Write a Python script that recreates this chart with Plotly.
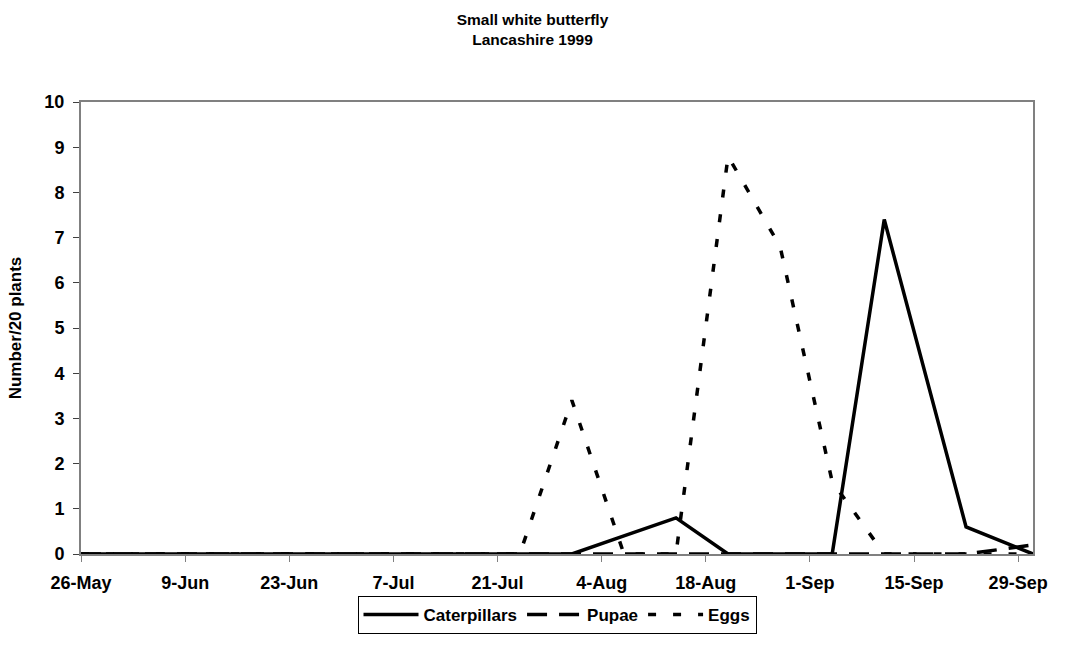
import plotly.graph_objects as go

# Sampling dates (1999) and counts per 20 plants
dates = [
    "1999-05-26", "1999-05-29", "1999-06-05", "1999-06-12", "1999-06-19",
    "1999-06-26", "1999-07-03", "1999-07-10", "1999-07-17", "1999-07-24",
    "1999-07-31", "1999-08-07", "1999-08-14", "1999-08-21", "1999-08-28",
    "1999-09-04", "1999-09-11", "1999-09-22", "1999-10-01",
]
caterpillars = [0, 0, 0, 0, 0, 0, 0, 0, 0, 0, 0, 0.4, 0.8, 0, 0, 0, 7.4, 0.6, 0]
pupae = [0, 0, 0, 0, 0, 0, 0, 0, 0, 0, 0, 0, 0, 0, 0, 0, 0, 0, 0.2]
eggs = [0, 0, 0, 0, 0, 0, 0, 0, 0, 0, 3.4, 0, 0, 8.8, 6.8, 1.6, 0, 0, 0]

font_family = "Liberation Sans, Arial, sans-serif"
bold = dict(family=font_family, color="black", weight="bold")

fig = go.Figure()
fig.add_trace(go.Scatter(x=dates, y=caterpillars, name="Caterpillars", mode="lines",
                         line=dict(color="black", width=3.5)))
fig.add_trace(go.Scatter(x=dates, y=pupae, name="Pupae", mode="lines",
                         line=dict(color="black", width=3.5, dash="20px,12px")))
fig.add_trace(go.Scatter(x=dates, y=eggs, name="Eggs", mode="lines",
                         line=dict(color="black", width=3.5, dash="8px,17px")))

fig.update_layout(
    width=1065, height=650,
    paper_bgcolor="white", plot_bgcolor="white",
    margin=dict(l=81, r=32, t=102, b=96),
    font=dict(family=font_family, size=17, color="black"),
    title=dict(text="Small white butterfly<br>Lancashire 1999",
               x=0.5, xanchor="center", xref="container",
               y=1 - 25 / 650, yanchor="middle", yref="container",
               font=dict(size=15.5, **bold)),
    showlegend=True,
    legend=dict(orientation="h", x=0.5, xanchor="center", xref="paper",
                y=-0.093, yanchor="top",
                bordercolor="black", borderwidth=1,
                itemwidth=55,
                font=dict(size=17, **bold), tracegroupgap=0),
)

fig.update_xaxes(
    type="date",
    range=["1999-05-26", "1999-10-01"],
    tick0="1999-05-26", dtick=14 * 86400000,
    tickformat="%-d-%b",
    ticks="outside", ticklen=6, tickcolor="#808080",
    ticklabelstandoff=5,
    showline=True, linecolor="#808080", linewidth=2, mirror=True,
    showgrid=False, zeroline=False,
    tickfont=dict(size=18, **bold),
)
fig.update_yaxes(
    range=[0, 10], dtick=1,
    ticks="outside", ticklen=6, tickcolor="#404040",
    ticklabelstandoff=5,
    showline=True, linecolor="#808080", linewidth=2, mirror=True,
    showgrid=False, zeroline=False,
    tickfont=dict(size=18, **bold),
    title=dict(text="Number/20 plants", font=dict(size=17, **bold), standoff=18),
)

fig.write_html("out.html")
